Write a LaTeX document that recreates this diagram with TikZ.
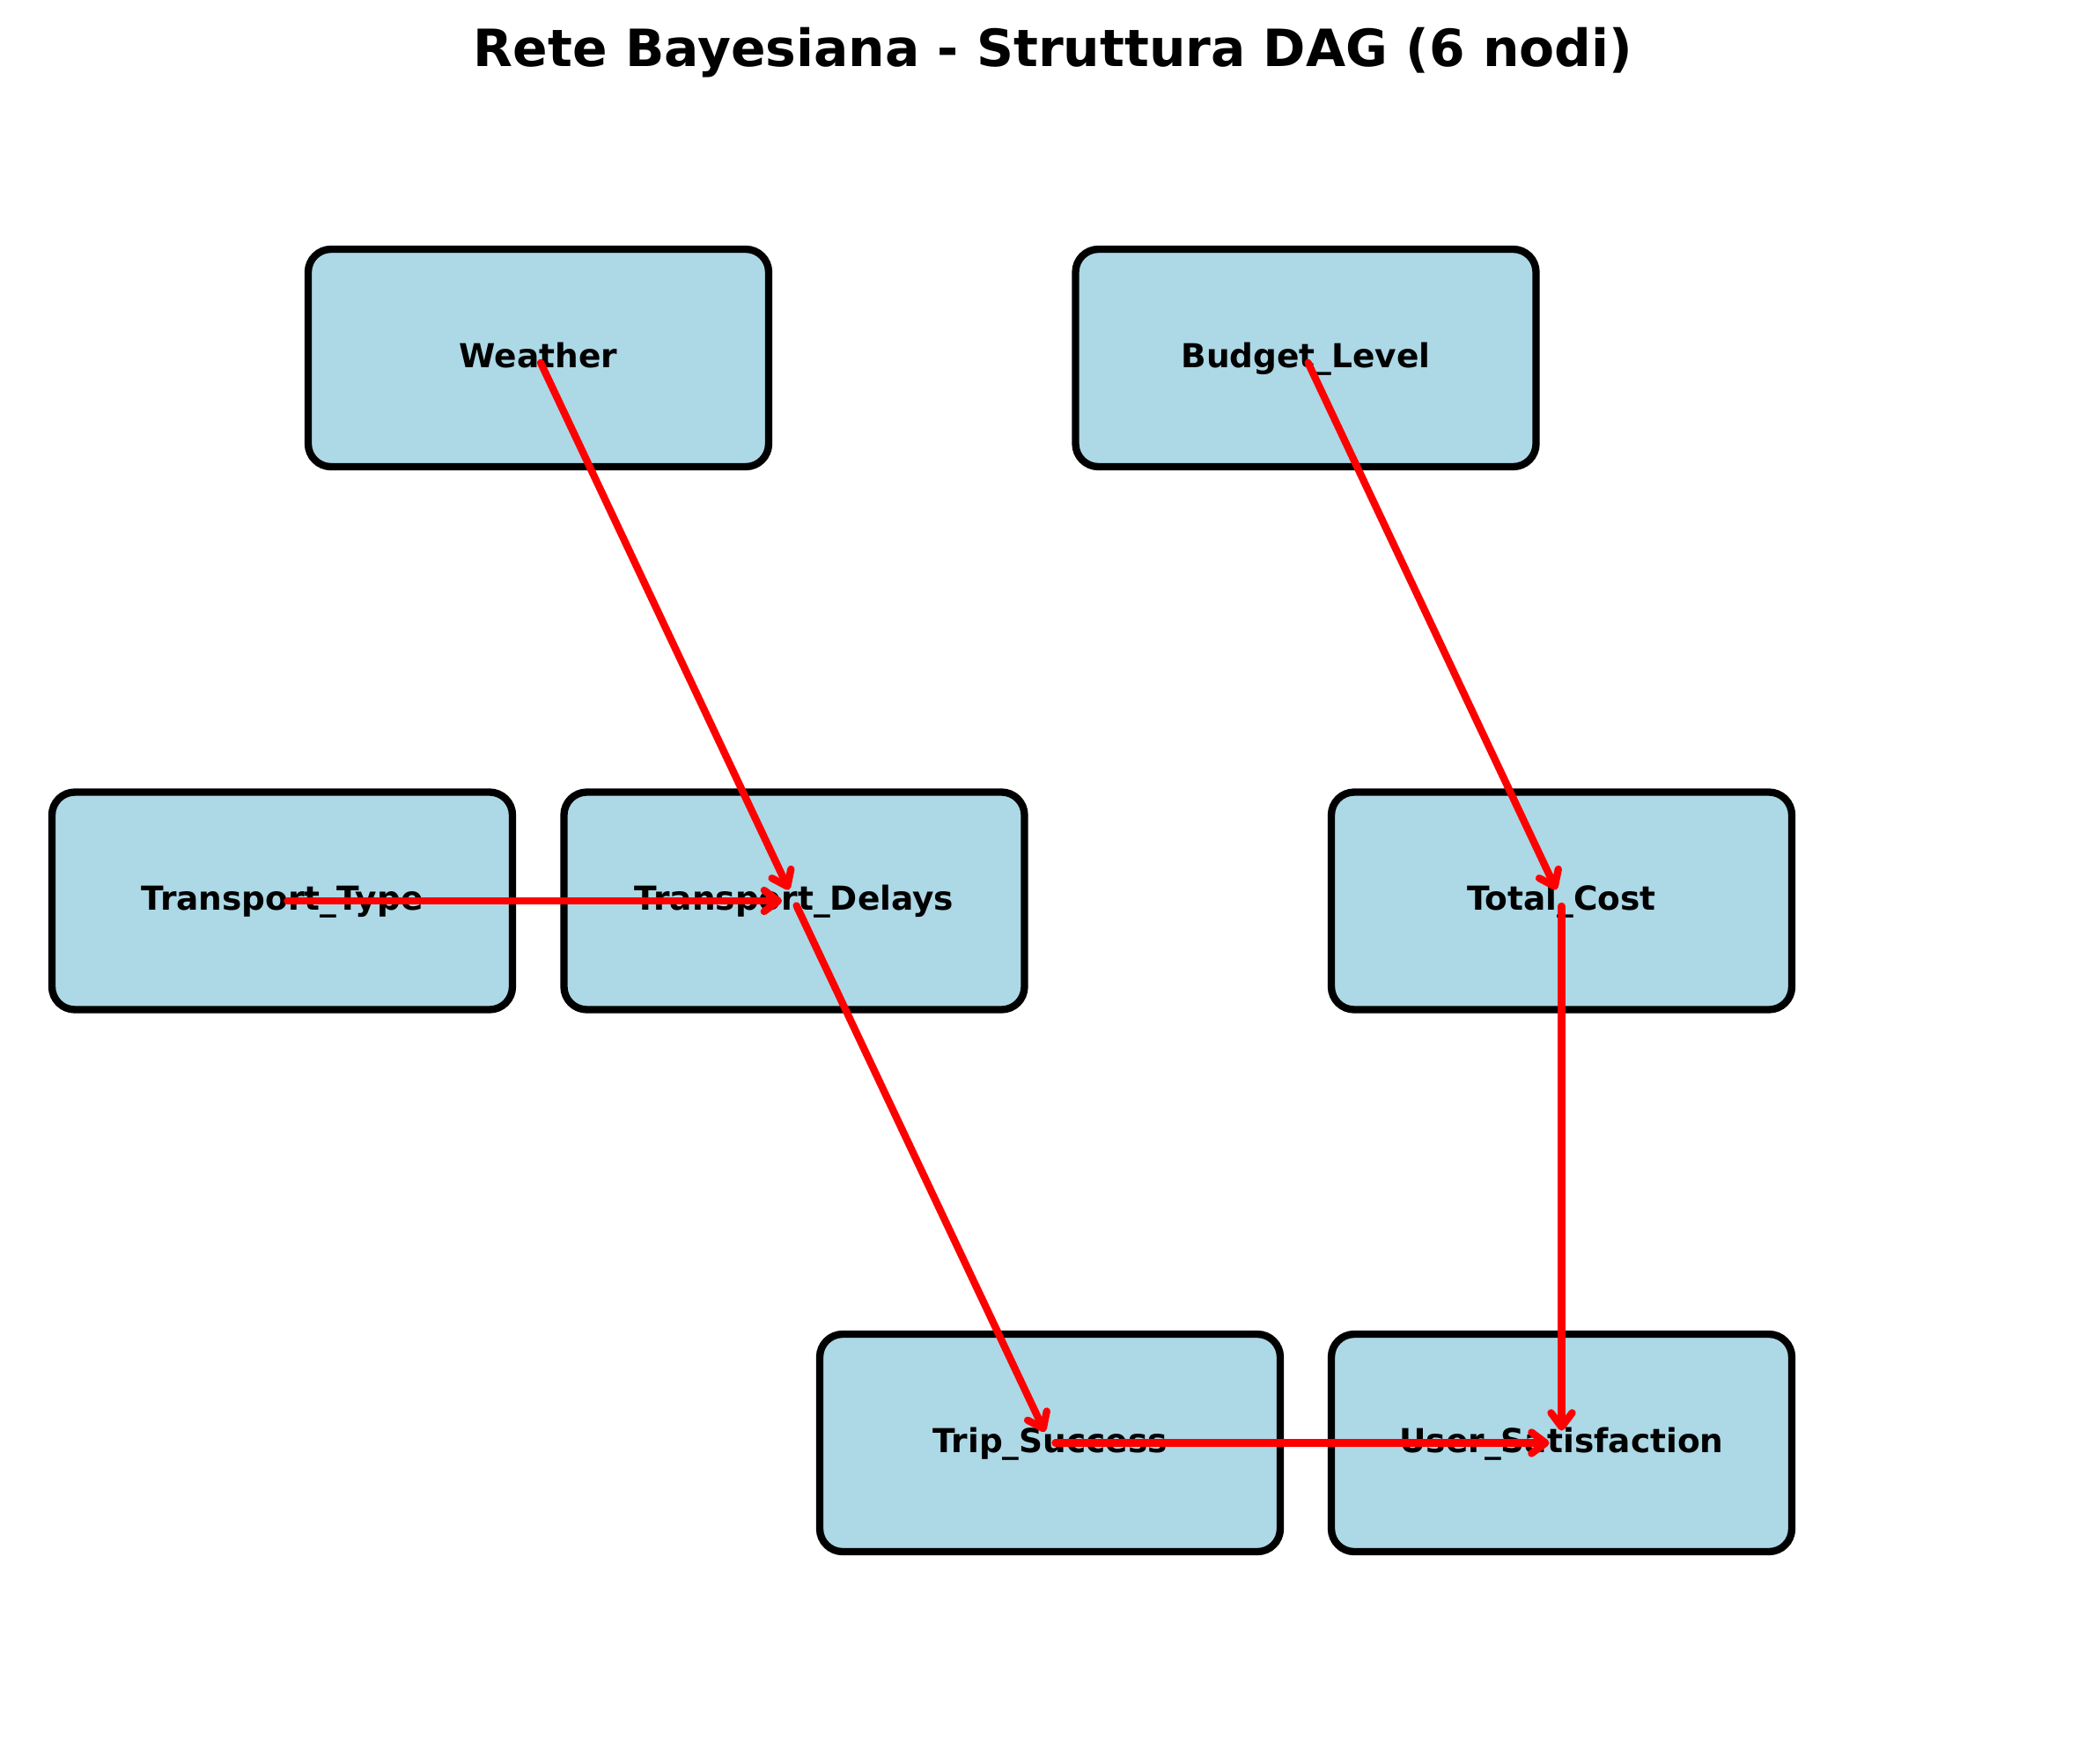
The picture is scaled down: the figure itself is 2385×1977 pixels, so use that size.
\documentclass[tikz,border=0pt]{standalone}
\usepackage{fontspec}
\setmainfont{DejaVu Sans}
\usetikzlibrary{arrows.meta}
\definecolor{boxblue}{RGB}{173,216,230}
\begin{document}
\begin{tikzpicture}[x=1pt,y=-1pt,
  varbox/.style={draw=black, line width=8.33pt, fill=boxblue, rounded corners=26pt,
    minimum width=523pt, minimum height=247pt, inner sep=0pt,
    font=\fontsize{37.5}{40}\selectfont\bfseries, text height=31pt, text depth=10pt},
  titlestyle/.style={font=\fontsize{58.3}{62}\selectfont\bfseries, anchor=base, inner sep=0pt},
  link/.style={draw=red, line width=8.33pt, line cap=round, line join=round,
    shorten <=6pt, shorten >=14pt,
    -{Straight Barb[length=16pt,width=24pt,line cap=round,line join=round]}}]
\useasboundingbox (0,0) rectangle (2385,1977);
\node[titlestyle] (title) at (1196,76) {Rete Bayesiana - Struttura DAG (6 nodi)};
\node[varbox] (W)  at (611.5,406.5)  {Weather};
\node[varbox] (BL) at (1483,406.5)   {Budget\_Level};
\node[varbox] (TT) at (320.5,1023)   {Transport\_Type};
\node[varbox] (TD) at (902,1023)     {Transport\_Delays};
\node[varbox] (TC) at (1773.5,1023)  {Total\_Cost};
\node[varbox] (TS) at (1192.5,1638.5) {Trip\_Success};
\node[varbox] (US) at (1773.5,1638.5) {User\_Satisfaction};
\draw[link] (W.center)  -- (TD.center);
\draw[link] (BL.center) -- (TC.center);
\draw[link] (TT.center) -- (TD.center);
\draw[link] (TD.center) -- (TS.center);
\draw[link] (TC.center) -- (US.center);
\draw[link] (TS.center) -- (US.center);
\end{tikzpicture}
\end{document}
